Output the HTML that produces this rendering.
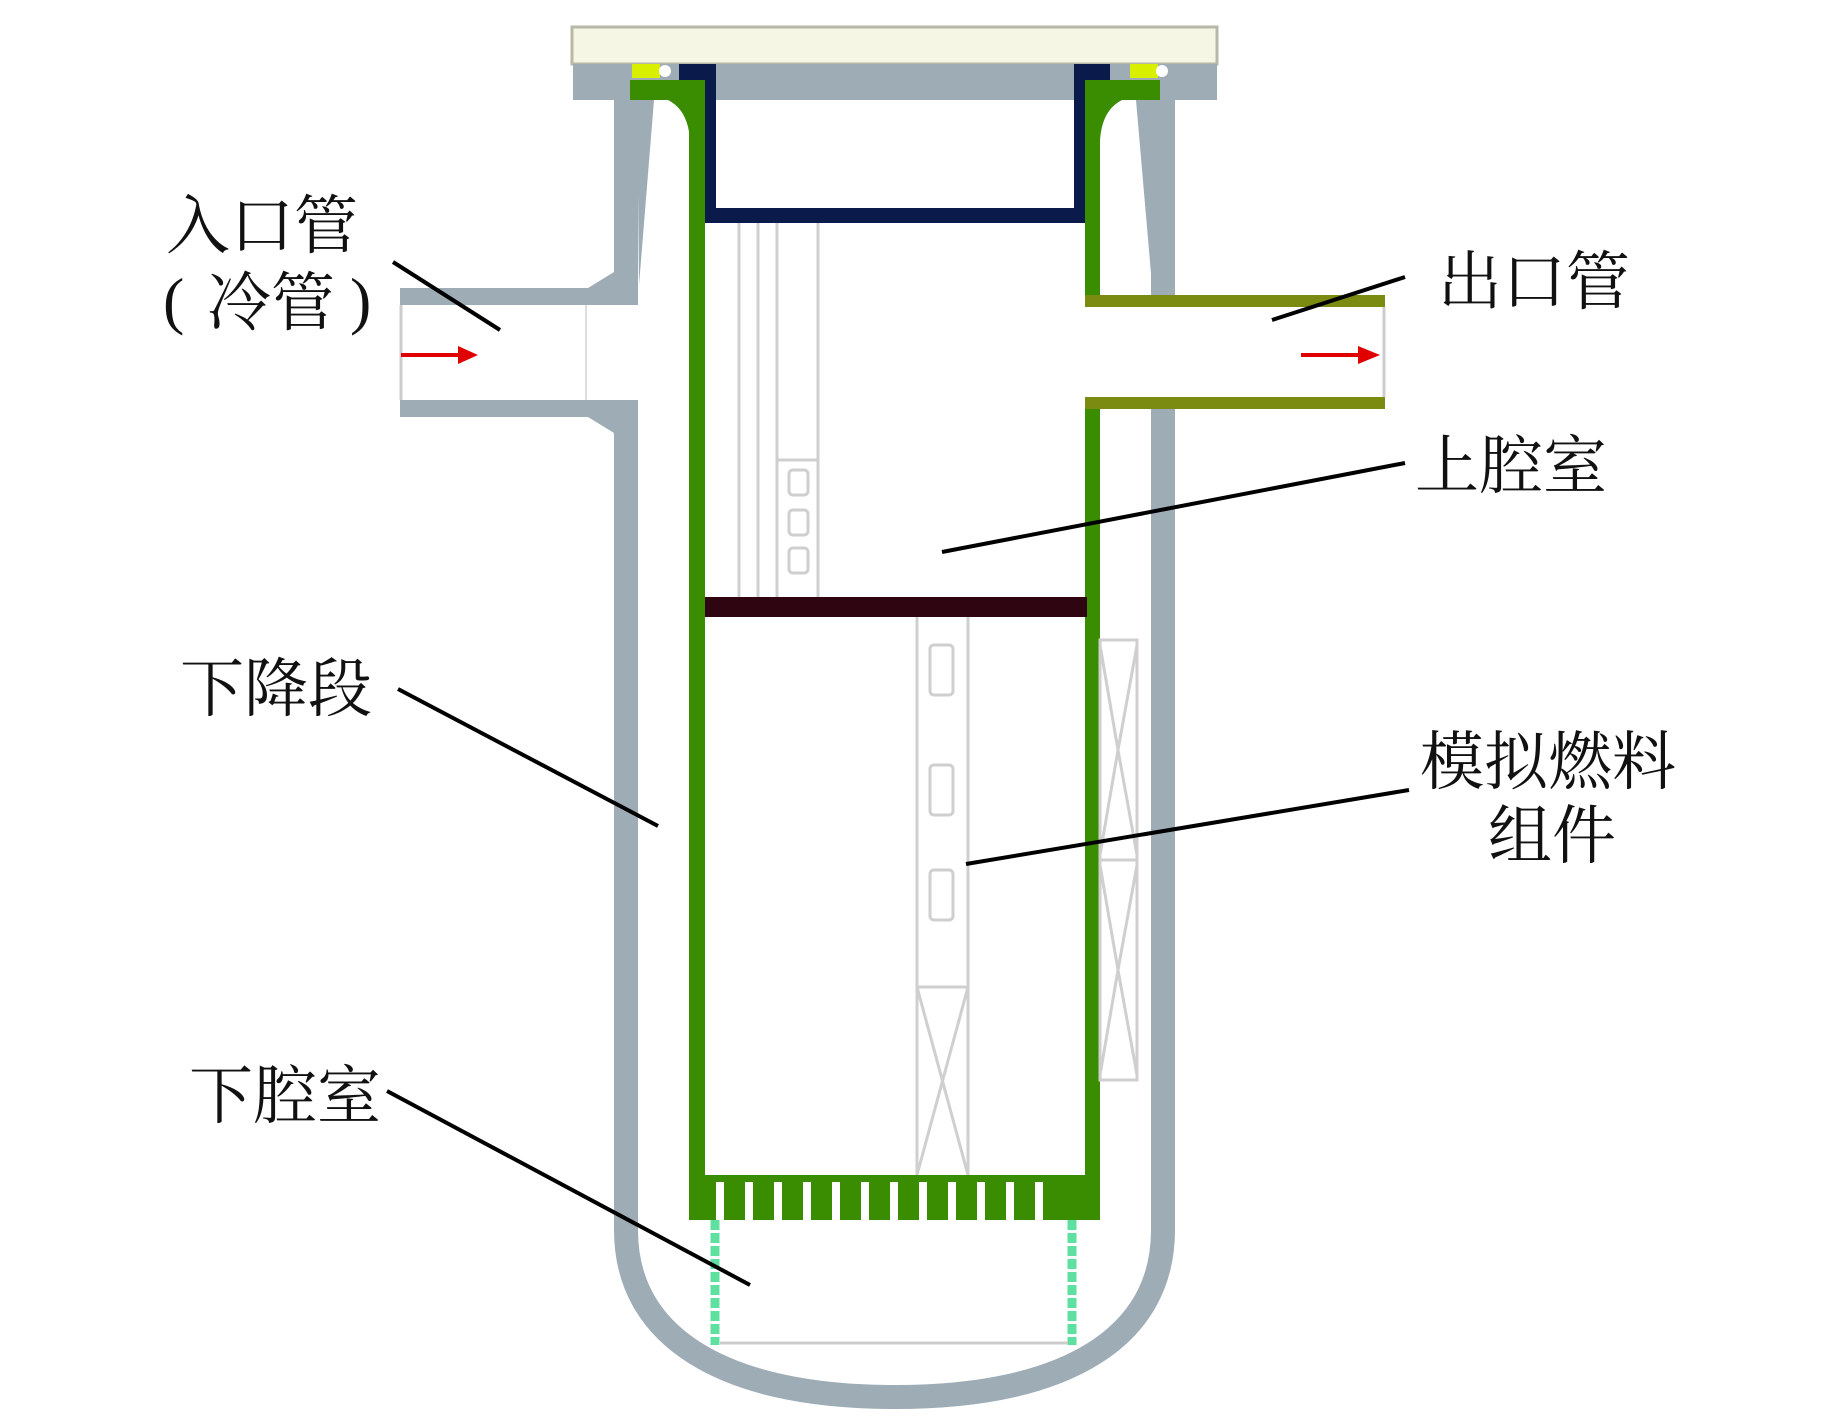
<!DOCTYPE html>
<html><head><meta charset="utf-8"><style>
html,body{margin:0;padding:0;background:#fff;}
svg{display:block;}
text{font-family:"Liberation Serif","Noto Serif CJK SC",serif;font-size:64px;fill:#111;}
</style></head><body>
<svg width="1843" height="1420" viewBox="0 0 1843 1420" xmlns="http://www.w3.org/2000/svg">
<!-- lid -->
<rect x="572" y="27" width="645" height="37" fill="#f6f6e4" stroke="#b8b8a8" stroke-width="3"/>
<!-- flange -->
<rect x="573" y="64" width="644" height="36" fill="#9eacb6"/>
<!-- vessel walls -->
<path d="M626,100 V1230 C626,1335 720,1397 895,1397 C1070,1397 1163,1335 1163,1230 V100" fill="none" stroke="#9eacb6" stroke-width="24"/>
<path d="M637,100 L654,100 L639,285 Z" fill="#9eacb6"/>
<path d="M1152,100 L1136,100 L1152,285 Z" fill="#9eacb6"/>
<!-- inlet pipe -->
<rect x="400" y="288" width="190" height="17" fill="#9eacb6"/>
<rect x="400" y="400" width="190" height="17" fill="#9eacb6"/>
<path d="M588,288 L614,272 L638,272 L638,305 L588,305 Z" fill="#9eacb6"/>
<path d="M588,400 L638,400 L638,433 L614,433 L588,417 Z" fill="#9eacb6"/>
<rect x="612" y="305" width="30" height="95" fill="#fff"/>
<line x1="401" y1="305" x2="401" y2="400" stroke="#ccc" stroke-width="3"/>
<line x1="586" y1="305" x2="586" y2="400" stroke="#ddd" stroke-width="2"/>
<!-- outlet pipe -->
<rect x="1100" y="307" width="80" height="90" fill="#fff"/>
<rect x="1085" y="295" width="300" height="12" fill="#7b8a10"/>
<rect x="1085" y="397" width="300" height="12" fill="#7b8a10"/>
<line x1="1384" y1="307" x2="1384" y2="397" stroke="#ccc" stroke-width="3"/>
<!-- seals -->
<rect x="632" y="64" width="28" height="14" fill="#d8f000"/>
<rect x="1130" y="64" width="28" height="14" fill="#d8f000"/>
<circle cx="665" cy="71" r="6" fill="#fff"/><circle cx="1162" cy="71" r="6" fill="#fff"/>
<!-- green barrel flanges -->
<path d="M630,80 H705 V200 L690,200 L690,140 Q688,110 668,100 H630 Z" fill="#3a8c00"/>
<path d="M1160,80 H1085 V200 L1100,200 L1100,140 Q1102,110 1122,100 H1160 Z" fill="#3a8c00"/>
<!-- green barrel -->
<rect x="689" y="100" width="16" height="1080" fill="#3a8c00"/>
<rect x="1085" y="100" width="15" height="195" fill="#3a8c00"/>
<rect x="1085" y="409" width="15" height="771" fill="#3a8c00"/>
<!-- navy box -->
<path d="M679,64 H716 V208 H1074 V64 H1110 V80 H1085 V223 H705 V80 H679 Z" fill="#0a1a4a"/>
<!-- upper guide tube -->
<g stroke="#cfcfcf" stroke-width="3" fill="none">
<line x1="739" y1="223" x2="739" y2="597"/>
<line x1="758" y1="223" x2="758" y2="597"/>
<line x1="777" y1="223" x2="777" y2="597"/>
<line x1="818" y1="223" x2="818" y2="597"/>
<line x1="777" y1="460" x2="818" y2="460"/>
<rect x="789" y="470" width="19" height="25" rx="4"/>
<rect x="789" y="510" width="19" height="25" rx="4"/>
<rect x="789" y="548" width="19" height="25" rx="4"/>
</g>
<!-- maroon plate -->
<rect x="705" y="597" width="382" height="20" fill="#2e0510"/>
<!-- fuel assembly -->
<g stroke="#cfcfcf" stroke-width="3" fill="none">
<line x1="917" y1="617" x2="917" y2="1175"/>
<line x1="968" y1="617" x2="968" y2="1175"/>
<rect x="930" y="645" width="23" height="50" rx="4"/>
<rect x="930" y="765" width="23" height="50" rx="4"/>
<rect x="930" y="870" width="23" height="50" rx="4"/>
<line x1="917" y1="987" x2="968" y2="987"/>
<line x1="917" y1="987" x2="968" y2="1175"/>
<line x1="968" y1="987" x2="917" y2="1175"/>
<!-- right side piece -->
<rect x="1100" y="640" width="37" height="440"/>
<line x1="1100" y1="860" x2="1137" y2="860"/>
<path d="M1100,645 L1118,750 L1137,645 M1100,855 L1118,750 L1137,855 M1100,865 L1118,970 L1137,865 M1100,1075 L1118,970 L1137,1075"/>
</g>
<!-- bottom grid -->
<rect x="689" y="1175" width="411" height="45" fill="#3a8c00"/>
<g fill="#fff">
<rect x="716" y="1182" width="8" height="38"/><rect x="745" y="1182" width="8" height="38"/>
<rect x="774" y="1182" width="8" height="38"/><rect x="803" y="1182" width="8" height="38"/>
<rect x="832" y="1182" width="8" height="38"/><rect x="861" y="1182" width="8" height="38"/>
<rect x="890" y="1182" width="8" height="38"/><rect x="919" y="1182" width="8" height="38"/>
<rect x="948" y="1182" width="8" height="38"/><rect x="977" y="1182" width="8" height="38"/>
<rect x="1006" y="1182" width="8" height="38"/><rect x="1035" y="1182" width="8" height="38"/>
</g>
<!-- legs -->
<line x1="715" y1="1220" x2="715" y2="1345" stroke="#5fe0a0" stroke-width="9" stroke-dasharray="10,3"/>
<line x1="1072" y1="1220" x2="1072" y2="1345" stroke="#5fe0a0" stroke-width="9" stroke-dasharray="10,3"/>
<line x1="720" y1="1343" x2="1068" y2="1343" stroke="#ccc" stroke-width="3"/>
<!-- red arrows -->
<line x1="401" y1="355" x2="460" y2="355" stroke="#e00000" stroke-width="4"/>
<path d="M458,346 L478,355 L458,364 Z" fill="#e00000"/>
<line x1="1301" y1="355" x2="1362" y2="355" stroke="#e00000" stroke-width="4"/>
<path d="M1358,346 L1380,355 L1358,364 Z" fill="#e00000"/>
<!-- leader lines -->
<g stroke="#000" stroke-width="4">
<line x1="393" y1="262" x2="500" y2="330"/>
<line x1="1405" y1="277" x2="1272" y2="320"/>
<line x1="1405" y1="463" x2="942" y2="552"/>
<line x1="398" y1="689" x2="658" y2="826"/>
<line x1="1409" y1="790" x2="966" y2="864"/>
<line x1="387" y1="1091" x2="750" y2="1285"/>
</g>
<!-- labels -->
<text x="166" y="248">入口管</text>
<text x="163" y="322">(</text>
<text x="207" y="325">冷管</text>
<text x="350" y="322">)</text>
<text x="1438" y="304">出口管</text>
<text x="1415" y="488">上腔室</text>
<text x="180" y="711">下降段</text>
<text x="1420" y="784">模拟燃料</text>
<text x="1488" y="858">组件</text>
<text x="189" y="1118">下腔室</text>
</svg>
</body></html>
